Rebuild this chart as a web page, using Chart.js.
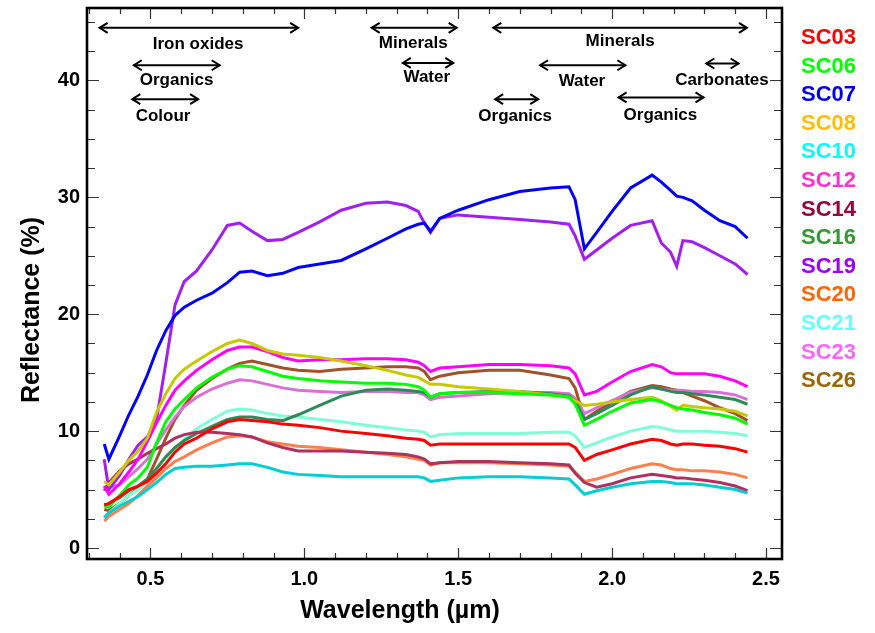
<!DOCTYPE html>
<html>
<head>
<meta charset="utf-8">
<script src="https://cdn.jsdelivr.net/npm/chart.js@4.4.0/dist/chart.umd.min.js"></script>
<style>
  html, body { margin: 0; padding: 0; background: #fff; }
  #wrap { width: 875px; height: 633px; }
</style>
</head>
<body>
<div id="wrap"><canvas id="chart" width="875" height="633"></canvas></div>
<script>
// Wavelength grid (µm) shared by every spectrum
const wavelength = [0.35, 0.365, 0.40, 0.43, 0.46, 0.49, 0.52, 0.55, 0.58, 0.61,
  0.65, 0.70, 0.75, 0.79, 0.83, 0.88, 0.93, 0.98, 1.05, 1.12,
  1.20, 1.27, 1.33, 1.37, 1.39, 1.41, 1.44, 1.50, 1.60, 1.70,
  1.80, 1.86, 1.88, 1.91, 1.95, 2.00, 2.06, 2.13, 2.16, 2.19,
  2.21, 2.23, 2.26, 2.30, 2.35, 2.40, 2.44];

// Reflectance (%)
const sc03 = [3.7, 3.8, 4.4, 5.0, 5.3, 5.7, 6.4, 7.2, 8.2, 8.9, 9.4, 10.2, 10.8, 11.0, 10.9, 10.8, 10.6, 10.5, 10.3, 10.0,
  9.8, 9.6, 9.4, 9.3, 9.2, 8.8, 8.9, 8.9, 8.9, 8.9, 8.9, 8.9, 8.6, 7.5, 8.0, 8.4, 8.9, 9.3, 9.2, 8.9,
  8.8, 8.9, 8.9, 8.8, 8.7, 8.5, 8.2];
const sc06 = [3.6, 3.5, 4.5, 5.4, 6.0, 6.9, 9.0, 10.8, 11.9, 12.7, 13.7, 14.6, 15.3, 15.6, 15.5, 15.1, 14.7, 14.5, 14.3, 14.2,
  14.1, 14.1, 14.0, 13.8, 13.5, 12.9, 13.2, 13.3, 13.3, 13.2, 13.1, 12.9, 12.3, 10.5, 11.0, 11.7, 12.4, 12.7, 12.5, 12.2,
  12.0, 11.9, 11.8, 11.6, 11.4, 11.1, 10.6];
const sc07 = [8.9, 7.6, 9.6, 11.4, 13.0, 14.8, 16.9, 18.6, 19.9, 20.6, 21.2, 21.8, 22.7, 23.6, 23.7, 23.3, 23.5, 24.0, 24.3, 24.6,
  25.6, 26.5, 27.3, 27.7, 27.8, 27.1, 28.2, 28.9, 29.8, 30.5, 30.8, 30.9, 29.8, 25.6, 27.0, 28.8, 30.8, 31.9, 31.3, 30.6,
  30.1, 30.0, 29.7, 28.9, 28.0, 27.5, 26.5];
const sc08 = [5.7, 5.4, 6.5, 7.5, 8.3, 9.4, 11.6, 13.2, 14.5, 15.3, 16.0, 16.8, 17.5, 17.8, 17.5, 16.9, 16.6, 16.5, 16.3, 16.0,
  15.6, 15.2, 14.8, 14.6, 14.3, 14.0, 14.0, 13.8, 13.6, 13.4, 13.1, 12.9, 12.6, 12.2, 12.3, 12.5, 12.7, 12.9, 12.6, 12.1,
  11.8, 12.2, 12.1, 12.0, 11.9, 11.7, 11.3];
const sc10 = [2.6, 3.0, 3.6, 4.0, 4.4, 5.0, 5.6, 6.3, 6.8, 6.9, 7.0, 7.0, 7.1, 7.2, 7.2, 6.9, 6.5, 6.3, 6.2, 6.1,
  6.1, 6.1, 6.1, 6.1, 6.0, 5.7, 5.8, 6.0, 6.1, 6.1, 6.0, 5.9, 5.4, 4.6, 4.9, 5.2, 5.5, 5.7, 5.7, 5.6,
  5.5, 5.5, 5.5, 5.4, 5.2, 5.0, 4.7];
const sc12 = [5.3, 4.6, 5.5, 6.5, 7.6, 9.1, 10.7, 12.2, 13.5, 14.3, 15.2, 16.1, 16.9, 17.2, 17.2, 16.8, 16.3, 16.0, 16.1, 16.1,
  16.2, 16.2, 16.1, 15.9, 15.6, 15.1, 15.4, 15.5, 15.7, 15.7, 15.6, 15.4, 14.9, 13.1, 13.4, 14.2, 15.1, 15.7, 15.5, 15.0,
  14.9, 14.9, 14.9, 14.9, 14.7, 14.3, 13.8];
const sc14 = [4.9, 5.6, 6.6, 7.2, 7.6, 8.1, 8.5, 8.9, 9.4, 9.7, 9.9, 9.9, 9.8, 9.7, 9.5, 9.0, 8.6, 8.3, 8.3, 8.3,
  8.2, 8.1, 8.0, 7.8, 7.6, 7.2, 7.3, 7.4, 7.4, 7.3, 7.2, 7.1, 6.4, 5.6, 5.2, 5.5, 6.0, 6.3, 6.2, 6.1,
  6.0, 6.0, 5.9, 5.8, 5.6, 5.3, 4.9];
const sc16 = [3.6, 3.8, 4.3, 4.9, 5.3, 5.9, 6.8, 7.8, 8.6, 9.2, 9.8, 10.4, 11.0, 11.2, 11.2, 11.0, 10.9, 11.4, 12.2, 13.0,
  13.5, 13.6, 13.5, 13.4, 13.3, 12.9, 13.2, 13.3, 13.4, 13.4, 13.2, 13.0, 12.6, 11.0, 11.5, 12.2, 13.1, 13.8, 13.6, 13.4,
  13.3, 13.3, 13.2, 13.1, 12.9, 12.7, 12.3];
const sc19 = [7.6, 5.0, 6.2, 7.6, 8.8, 9.5, 11.0, 15.8, 20.8, 22.8, 23.7, 25.5, 27.6, 27.8, 27.1, 26.3, 26.4, 27.0, 27.9, 28.9,
  29.5, 29.6, 29.3, 28.8, 27.8, 27.0, 28.2, 28.5, 28.3, 28.1, 27.9, 27.7, 26.7, 24.7, 25.5, 26.5, 27.6, 28.0, 26.1, 25.3,
  24.1, 26.3, 26.2, 25.7, 25.0, 24.3, 23.4];
const sc20 = [2.3, 2.7, 3.3, 3.8, 4.5, 5.3, 6.0, 6.8, 7.4, 7.8, 8.4, 9.0, 9.5, 9.6, 9.5, 9.1, 8.9, 8.7, 8.6, 8.4,
  8.2, 8.0, 7.8, 7.6, 7.5, 7.1, 7.3, 7.3, 7.3, 7.2, 7.1, 7.0, 6.5, 5.7, 5.9, 6.3, 6.8, 7.2, 7.1, 6.8,
  6.7, 6.7, 6.6, 6.6, 6.5, 6.3, 6.0];
const sc21 = [2.6, 3.0, 3.8, 4.5, 5.0, 5.6, 6.4, 7.3, 8.4, 9.3, 10.2, 11.0, 11.7, 11.9, 11.8, 11.5, 11.3, 11.2, 11.0, 10.8,
  10.5, 10.3, 10.1, 10.0, 9.9, 9.5, 9.7, 9.8, 9.8, 9.8, 9.9, 9.9, 9.6, 8.6, 9.0, 9.5, 10.0, 10.4, 10.3, 10.1,
  10.0, 10.0, 10.0, 10.0, 9.9, 9.8, 9.6];
const sc23 = [5.2, 5.2, 5.4, 6.1, 6.8, 7.6, 8.9, 10.1, 11.2, 12.1, 12.9, 13.6, 14.1, 14.4, 14.3, 14.0, 13.7, 13.5, 13.4, 13.3,
  13.4, 13.4, 13.3, 13.3, 13.1, 12.7, 12.9, 13.0, 13.2, 13.3, 13.3, 13.2, 12.8, 11.5, 12.0, 12.6, 13.3, 13.7, 13.6, 13.5,
  13.5, 13.5, 13.4, 13.4, 13.3, 13.1, 12.7];
const sc26 = [3.3, 3.2, 3.8, 4.5, 5.1, 5.9, 7.6, 9.4, 11.0, 12.2, 13.5, 14.5, 15.3, 15.8, 16.0, 15.7, 15.4, 15.2, 15.1, 15.3,
  15.4, 15.5, 15.5, 15.4, 15.1, 14.4, 14.7, 15.0, 15.2, 15.2, 14.8, 14.5, 13.7, 11.0, 11.7, 12.5, 13.4, 13.9, 13.8, 13.6,
  13.5, 13.3, 13.0, 12.6, 12.0, 11.5, 10.9];

const seriesNames = ['SC03', 'SC06', 'SC07', 'SC08', 'SC10', 'SC12', 'SC14', 'SC16', 'SC19', 'SC20', 'SC21', 'SC23', 'SC26'];
const seriesValues = [sc03, sc06, sc07, sc08, sc10, sc12, sc14, sc16, sc19, sc20, sc21, sc23, sc26];
const lineColors = ['#ff0000', '#00ff00', '#0000ff', '#c8c800', '#00ced1', '#ff00ff', '#b03060',
  '#2e8b57', '#a020f0', '#ff7f50', '#7fffd4', '#da70d6', '#a0522d'];
const legendColors = ['#ff0000', '#00ff00', '#0000e6', '#ffbf00', '#00ffff', '#ff33cc', '#99003d',
  '#339933', '#9900ff', '#ff6600', '#66ffff', '#ff66ff', '#996600'];

const xTicks = [0.5, 1.0, 1.5, 2.0, 2.5];
const yTicks = [0, 10, 20, 30, 40];

// Band annotations (data units)
const bandLabels = ['Iron oxides', 'Organics', 'Colour', 'Minerals', 'Water', 'Minerals', 'Water', 'Carbonates', 'Organics', 'Organics'];
const bandStart  = [0.335, 0.446, 0.441, 1.219, 1.320, 1.614, 1.766, 2.306, 1.620, 2.021];
const bandEnd    = [0.980, 0.725, 0.655, 1.495, 1.484, 2.438, 2.043, 2.411, 1.760, 2.297];
const bandArrowY = [44.5, 41.3, 38.4, 44.5, 41.5, 44.5, 41.3, 41.45, 38.4, 38.55];
const bandTextX  = [0.655, 0.585, 0.541, 1.354, 1.398, 2.026, 1.902, 2.357, 1.685, 2.157];
const bandTextY  = [43.1, 40.0, 36.9, 43.2, 40.25, 43.35, 39.9, 40.0, 36.9, 37.05];

const FONT = '"Liberation Sans", Arial, Helvetica, sans-serif';

const datasets = seriesNames.map((name, i) => ({
    label: name,
    data: wavelength.map((w, j) => ({ x: w, y: seriesValues[i][j] })),
    borderColor: lineColors[i],
    borderWidth: 3,
    pointRadius: 0,
    tension: 0,
    fill: false
}));

function drawArrowHead(ctx, x, y, dir) {
    ctx.beginPath();
    ctx.moveTo(x - dir * 8, y - 5);
    ctx.lineTo(x, y);
    ctx.lineTo(x - dir * 8, y + 5);
    ctx.stroke();
}

const decorations = {
    id: 'decorations',
    afterDraw(chart) {
        const ctx = chart.ctx;
        const xs = chart.scales.x;
        const ys = chart.scales.y;
        const a = chart.chartArea;
        ctx.save();

        // inward tick marks on all four sides
        ctx.strokeStyle = '#333';
        ctx.lineWidth = 1.2;
        for (let i = 3; i <= 25; i++) {
            const v = i / 10;
            const px = Math.round(xs.getPixelForValue(v)) + 0.5;
            const len = (i % 5 === 0) ? 11 : 6;
            ctx.beginPath();
            ctx.moveTo(px, a.bottom); ctx.lineTo(px, a.bottom - len);
            ctx.moveTo(px, a.top); ctx.lineTo(px, a.top + len);
            ctx.stroke();
        }
        for (let i = 0; i <= 18; i++) {
            const v = i * 2.5;
            const py = Math.round(ys.getPixelForValue(v)) + 0.5;
            const len = (i % 4 === 0) ? 12 : 8;
            ctx.beginPath();
            ctx.moveTo(a.left, py); ctx.lineTo(a.left + len, py);
            ctx.moveTo(a.right, py); ctx.lineTo(a.right - len, py);
            ctx.stroke();
        }

        // frame
        ctx.strokeStyle = '#000';
        ctx.lineWidth = 2.6;
        ctx.strokeRect(a.left, a.top, a.right - a.left, a.bottom - a.top);

        // band arrows and labels
        ctx.lineWidth = 2;
        ctx.fillStyle = '#000';
        ctx.font = 'bold 17px ' + FONT;
        ctx.textAlign = 'center';
        ctx.textBaseline = 'middle';
        bandLabels.forEach((txt, i) => {
            const x1 = xs.getPixelForValue(bandStart[i]);
            const x2 = xs.getPixelForValue(bandEnd[i]);
            const y = ys.getPixelForValue(bandArrowY[i]);
            ctx.beginPath();
            ctx.moveTo(x1, y); ctx.lineTo(x2, y);
            ctx.stroke();
            drawArrowHead(ctx, x1, y, -1);
            drawArrowHead(ctx, x2, y, 1);
            ctx.fillText(txt, xs.getPixelForValue(bandTextX[i]), ys.getPixelForValue(bandTextY[i]));
        });

        // legend
        ctx.font = 'bold 22px ' + FONT;
        ctx.textAlign = 'left';
        seriesNames.forEach((name, i) => {
            ctx.fillStyle = legendColors[i];
            ctx.fillText(name, 801, 38 + i * 28.6);
        });

        // axis titles
        ctx.fillStyle = '#000';
        ctx.font = 'bold 25px ' + FONT;
        ctx.textAlign = 'center';
        ctx.fillText('Wavelength (\u00b5m)', 400, 611);
        ctx.translate(32, 310);
        ctx.rotate(-Math.PI / 2);
        ctx.fillText('Reflectance (%)', 0, 0);
        ctx.restore();
    }
};

new Chart(document.getElementById('chart'), {
    type: 'line',
    data: { datasets },
    plugins: [decorations],
    options: {
        responsive: false,
        animation: false,
        devicePixelRatio: 1,
        layout: { padding: { top: 8, right: 93, left: 0, bottom: 0 } },
        plugins: { legend: { display: false }, tooltip: { enabled: false } },
        scales: {
            x: {
                type: 'linear',
                min: 0.294,
                max: 2.552,
                grid: { display: false, drawTicks: false },
                border: { display: false },
                afterBuildTicks: s => { s.ticks = xTicks.map(v => ({ value: v })); },
                afterFit: s => { s.height = 74; s.paddingLeft = 0; s.paddingRight = 0; },
                ticks: {
                    padding: 8,
                    color: '#000',
                    font: { family: FONT, size: 20, weight: 'bold' },
                    callback: v => Number(v).toFixed(1)
                }
            },
            y: {
                type: 'linear',
                min: -0.94,
                max: 46.2,
                grid: { display: false, drawTicks: false },
                border: { display: false },
                afterBuildTicks: s => { s.ticks = yTicks.map(v => ({ value: v })); },
                afterFit: s => { s.width = 87; s.paddingTop = 0; s.paddingBottom = 0; },
                ticks: {
                    padding: 7,
                    color: '#000',
                    font: { family: FONT, size: 20, weight: 'bold' },
                    callback: v => String(v)
                }
            }
        }
    }
});
</script>
</body>
</html>
